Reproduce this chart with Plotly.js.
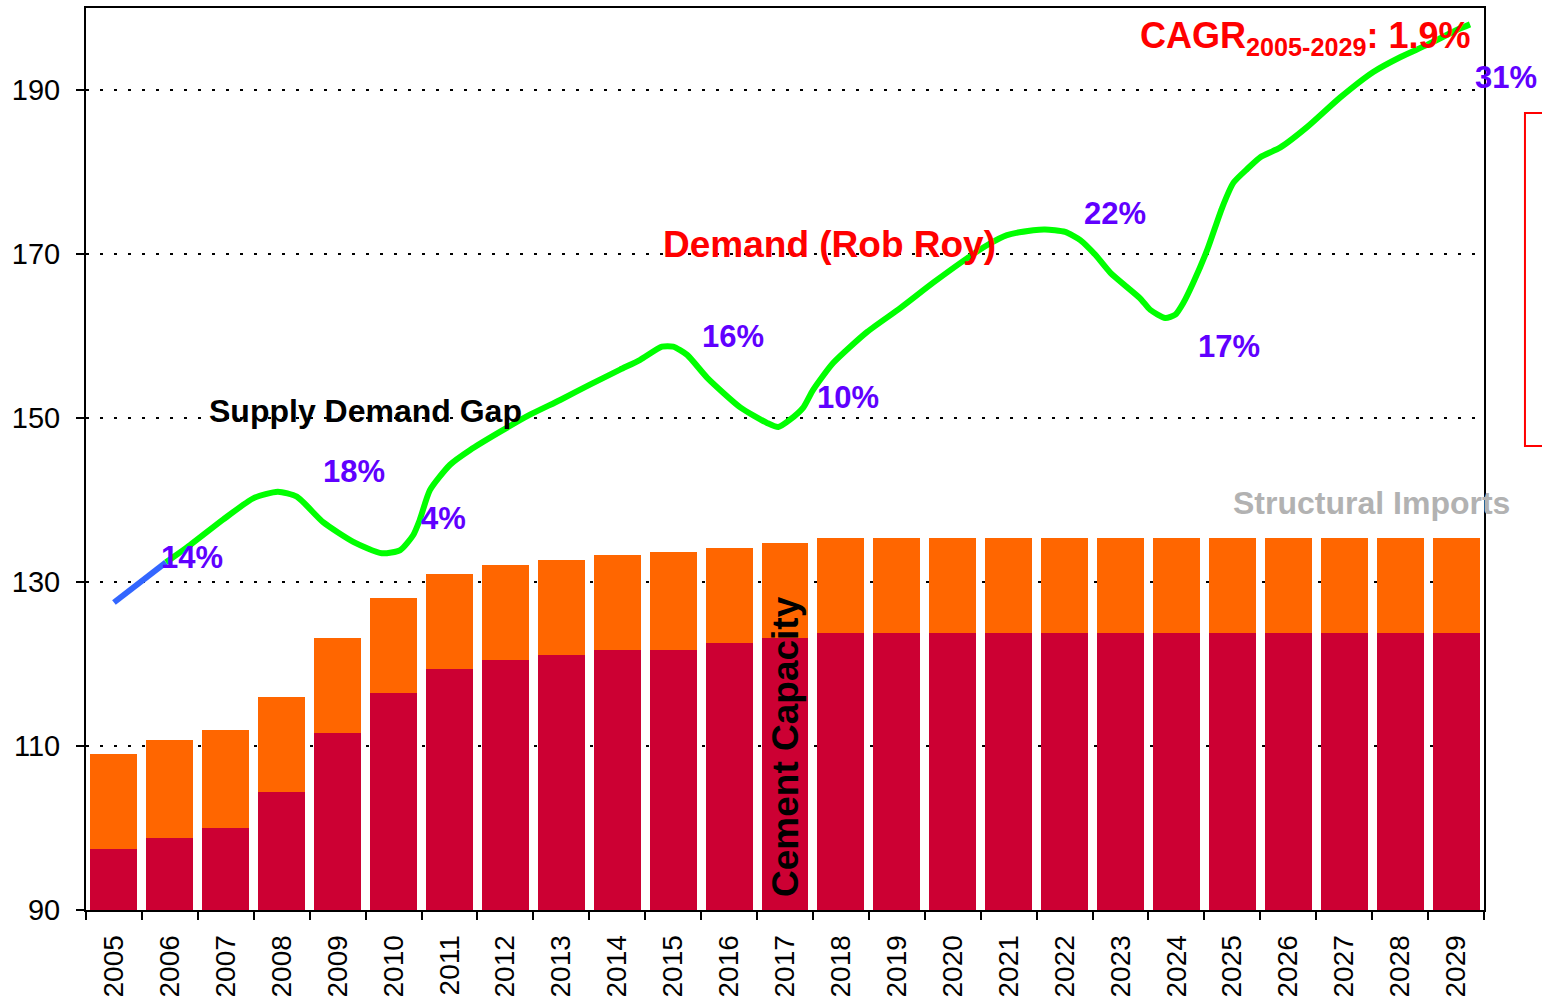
<!DOCTYPE html>
<html>
<head>
<meta charset="utf-8">
<script src="https://cdn.plot.ly/plotly-3.0.1.min.js"></script>
<style>html,body{margin:0;padding:0;background:#fff;}#chart{width:1542px;height:1003px;}</style>
</head>
<body>
<div id="chart"></div>
<script>
// Categories (years)
const years = ["2005","2006","2007","2008","2009","2010","2011","2012","2013","2014","2015","2016","2017",
  "2018","2019","2020","2021","2022","2023","2024","2025","2026","2027","2028","2029"];
// Cement capacity (bottom bar, crimson)
const capacity = [97.4,98.8,100.0,104.4,111.6,116.5,119.4,120.5,121.1,121.7,121.7,122.6,123.2,
  123.8,123.8,123.8,123.8,123.8,123.8,123.8,123.8,123.8,123.8,123.8,123.8];
// Structural imports (stacked on top, orange)
const imports = [11.6,11.9,12.0,11.6,11.6,11.5,11.6,11.6,11.6,11.6,12.0,11.5,11.6,
  11.6,11.6,11.6,11.6,11.6,11.6,11.6,11.6,11.6,11.6,11.6,11.6];
// Historical demand segment (blue)
const histX = [2005.0, 2005.93];
const histY = [127.5, 132.4];
// Demand (Rob Roy) curve (green)
const demandX = [2005.93,2006.36,2006.95,2007.49,2007.93,2008.27,2008.74,2009.28,2009.79,2010.12,2010.35,2010.47,
  2010.65,2011.01,2011.37,2011.9,2012.44,2012.98,2013.52,2014.05,2014.41,2014.8,2015.0,2015.25,2015.61,2016.2,
  2016.68,2016.88,2017.09,2017.33,2017.5,2017.86,2018.47,2019.06,2019.65,2020.26,2020.62,2020.97,2021.44,2021.65,
  2022.01,2022.28,2022.55,2022.82,2023.35,2023.53,2023.8,2023.98,2024.12,2024.3,2024.55,2024.82,2025.02,2025.27,
  2025.5,2025.86,2026.34,2026.93,2027.52,2028.0,2028.48,2029.04,2029.25];
const demandY = [132.4,134.5,137.6,140.2,141.0,140.4,137.3,134.9,133.5,133.9,135.7,137.6,
  141.2,144.3,146.1,148.3,150.4,152.2,154.1,155.9,157.1,158.7,158.7,157.7,154.9,151.3,
  149.4,148.9,149.8,151.3,153.4,156.7,160.5,163.4,166.5,169.5,171.1,172.3,172.9,173.0,
  172.7,171.7,169.9,167.7,164.6,163.2,162.2,162.6,164.0,166.5,170.5,175.7,178.7,180.4,
  181.8,183.0,185.5,189.1,192.2,194.0,195.5,197.4,198.0];
// Gap labels (inside the plot)
const gapLabels = ["14%","18%","4%","16%","10%","22%","17%"];
const gapX = [2006.39,2009.29,2010.9,2016.07,2018.13,2022.9,2024.94];
const gapY = [133.0,143.5,137.7,160.0,152.5,174.9,158.7];
const lastGapLabel = "31%";
const yTicks = [90,110,130,150,170,190];

const FONT = "Arial, 'Liberation Sans', sans-serif";
const PURPLE = "#6000FF";

const traces = [
  {type:"bar", x:years, y:capacity, marker:{color:"#CC0033"}, hoverinfo:"skip"},
  {type:"bar", x:years, y:imports, marker:{color:"#FF6600"}, hoverinfo:"skip"},
  {type:"scatter", mode:"lines", x:histX, y:histY, xaxis:"x2", yaxis:"y",
   line:{color:"#3366FF", width:6}, hoverinfo:"skip"},
  {type:"scatter", mode:"lines", x:demandX, y:demandY, xaxis:"x2", yaxis:"y",
   line:{color:"#00FF00", width:6, shape:"spline", smoothing:0.6}, hoverinfo:"skip"}
];

const annotations = gapLabels.map((t,i)=>({
  xref:"x2", yref:"y", x:gapX[i], y:gapY[i], text:t, showarrow:false,
  font:{family:FONT, size:31, color:PURPLE, weight:"bold"}, xanchor:"center", yanchor:"middle"
}));
annotations.push(
  {xref:"paper", yref:"paper", x:1.0157, y:0.9235, text:lastGapLabel, showarrow:false,
   xanchor:"center", yanchor:"middle",
   font:{family:FONT, size:31, color:PURPLE, weight:"bold"}},
  {xref:"x2", yref:"y", x:2017.8, y:171.2, text:"Demand (Rob Roy)", showarrow:false,
   font:{family:FONT, size:37, color:"#FF0000", weight:"bold"}},
  {xref:"x2", yref:"y", x:2009.5, y:150.8, text:"Supply Demand Gap", showarrow:false,
   font:{family:FONT, size:32, color:"#000000", weight:"bold"}},
  {xref:"x2", yref:"y", x:2027.48, y:139.6, text:"Structural Imports", showarrow:false,
   font:{family:FONT, size:32, color:"#B2B2B2", weight:"bold"}},
  {xref:"x2", yref:"y", x:2017.02, y:109.9, text:"Cement Capacity", showarrow:false, textangle:-90,
   font:{family:FONT, size:37, color:"#000000", weight:"bold"}},
  {xref:"x2", yref:"y", x:2029.3, y:196.4, xanchor:"right", yanchor:"middle",
   text:"CAGR<sub>2005-2029</sub>: 1.9%", showarrow:false,
   font:{family:FONT, size:36, color:"#FF0000", weight:"bold"}}
);

const layout = {
  width:1542, height:1003,
  margin:{l:86, r:58, t:8, b:93, pad:0},
  paper_bgcolor:"#fff", plot_bgcolor:"#fff",
  barmode:"stack", bargap:0.16,
  showlegend:false,
  font:{family:FONT, color:"#000"},
  xaxis:{type:"category", range:[-0.5,24.5], tickson:"boundaries", ticks:"outside", ticklen:8, tickwidth:2,
    tickcolor:"#000", showline:true, linecolor:"#000", linewidth:2, mirror:true, showgrid:false,
    tickangle:-90, tickfont:{family:FONT, size:28, color:"#000"}, ticklabelstandoff:12, zeroline:false},
  xaxis2:{type:"linear", range:[2004.5,2029.5], overlaying:"x", visible:false},
  yaxis:{range:[90,200], tickvals:yTicks, ticks:"outside", ticklen:8, tickwidth:2, tickcolor:"#000",
    showline:true, linecolor:"#000", linewidth:2, mirror:true,
    showgrid:true, gridcolor:"#000", gridwidth:1.5, griddash:"3px,11px", zeroline:false,
    tickfont:{family:FONT, size:29, color:"#000"}, ticklabelstandoff:10},
  shapes:[
    {type:"rect", xref:"paper", yref:"paper", x0:1.0293, x1:1.06, y0:0.5144, y1:0.8836,
     line:{color:"#FF0000", width:2}, fillcolor:"rgba(0,0,0,0)"}
  ],
  annotations:annotations
};

Plotly.newPlot("chart", traces, layout, {displayModeBar:false, staticPlot:true});
</script>
</body>
</html>
